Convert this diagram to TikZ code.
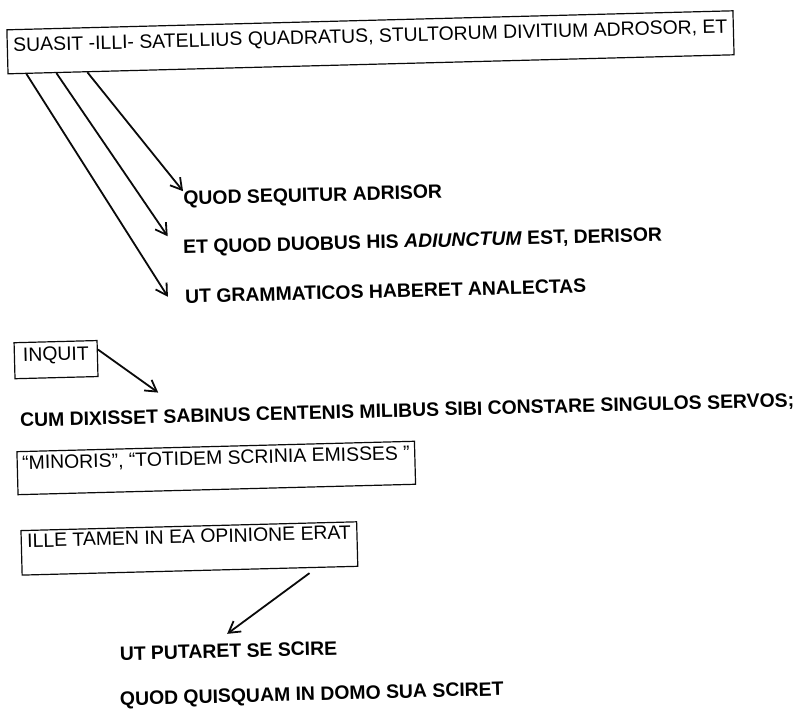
\documentclass[tikz,border=0pt]{standalone}
\usepackage{fontspec}
\setmainfont{Liberation Sans}
\usepackage{tikz}
\usetikzlibrary{arrows.meta,positioning}
\definecolor{ink}{HTML}{0A0A0A}
\tikzset{
  tbox/.style={draw=ink,line width=1.2pt,inner xsep=6pt,inner ysep=0pt,anchor=north west,
    font=\fontsize{19.4}{23}\selectfont},
  lbl/.style={inner sep=0pt,anchor=base west,font=\fontsize{19.4}{23}\selectfont\bfseries},
  arr/.style={ink,line width=1.8pt,-{Straight Barb[length=11pt,width=13pt]}},
}
\begin{document}
\begin{tikzpicture}[x=1pt,y=-1pt]
  \useasboundingbox (0,0) rectangle (802,717);
  \begin{scope}[rotate around={1.5:(401,358.5)},transform shape]
    % boxed lines
    \node[tbox,text height=22pt,text depth=22pt] (suasit) at (15,19)
      {SUASIT -ILLI- SATELLIUS QUADRATUS, STULTORUM DIVITIUM ADROSOR, ET};
    \node[tbox,text height=19pt,text depth=17pt,minimum width=83pt] (inquit) at (14,332) {INQUIT};
    \node[tbox,inner xsep=5pt,text height=18pt,text depth=25pt] (minoris) at (14,441)
      {“MINORIS”, “TOTIDEM SCRINIA EMISSES\ ”};
    \node[tbox,text height=17pt,text depth=27.5pt] (ille) at (16,520) {ILLE TAMEN IN EA OPINIONE ERAT};
    % free lines
    \node[lbl] (quodseq) at (187.5,199.3) {QUOD SEQUITUR ADRISOR};
    \node[lbl] (etquod) at (186,248) {ET QUOD DUOBUS HIS \textit{ADIUNCTUM} EST, DERISOR};
    \node[lbl] (utgram) at (186.6,297.4) {UT GRAMMATICOS HABERET ANALECTAS};
    \node[lbl] (cum) at (18.4,417) {CUM DIXISSET SABINUS CENTENIS MILIBUS SIBI CONSTARE SINGULOS SERVOS;};
    \node[lbl] (utput) at (112,653) {UT PUTARET SE SCIRE};
    \node[lbl] (quodquis) at (111,698) {QUOD QUISQUAM IN DOMO SUA SCIRET};
    % arrows
    \draw[arr] ([xshift=80pt]suasit.south west) -- (quodseq.north west);
    \draw[arr] ([xshift=49pt]suasit.south west) -- ([xshift=-15pt,yshift=4pt]etquod.north west);
    \draw[arr] ([xshift=19pt]suasit.south west) -- ([xshift=-17pt]utgram.west);
    \draw[arr] ([yshift=9pt]inquit.east) -- ([xshift=139pt,yshift=17pt]cum.north west);
    \draw[arr] ([xshift=-49pt,yshift=-5pt]ille.south east) -- ([xshift=108pt,yshift=10pt]utput.north west);
  \end{scope}
\end{tikzpicture}
\end{document}
